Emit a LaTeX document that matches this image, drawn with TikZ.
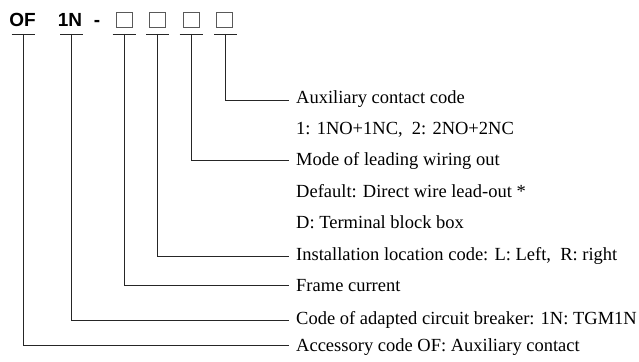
\documentclass[tikz,border=0pt]{standalone}
\usepackage{fontspec}
\setmainfont{Liberation Serif}
\newfontfamily\codefont{Liberation Sans}
\tikzset{
  code/.style={font=\codefont\bfseries\fontsize{19}{22}\selectfont, inner sep=0pt, anchor=base},
  slot/.style={draw=black!65, line width=0.8pt, minimum width=16pt, minimum height=14.5pt, inner sep=0pt},
  expl/.style={font=\fontsize{18.5}{22}\selectfont, inner sep=0pt, anchor=base west},
  lead/.style={line width=0.9pt, black!85},
}
\begin{document}
\begin{tikzpicture}[x=1pt,y=-1pt]
\useasboundingbox (0,0) rectangle (639,361);
\path (22.5,26.5) node[code](OF){OF} (70,26.5) node[code](N){1N} (97,26.5) node[code](dash){-}
 (124,19.7) node[slot](boxA){} (157.5,19.7) node[slot](boxB){} (191,19.7) node[slot](boxC){} (224.5,19.7) node[slot](boxD){};

\path (23,34) coordinate(barOF) (71.5,34) coordinate(barN) (124,34) coordinate(barA) (157.5,34) coordinate(barB) (191,34) coordinate(barC) (225.5,34) coordinate(barD);

\path (296,103) node[expl](aux){Auxiliary contact code} (296,134.5) node[expl](auxnum){1: 1NO+1NC,\ \ 2: 2NO+2NC}
 (296,165) node[expl](mode){Mode of leading wiring out} (296,197.5) node[expl](dflt){Default: Direct wire lead-out *}
 (296,228) node[expl](term){D: Terminal block box} (296,260.5) node[expl](inst){Installation location code: L: Left,\ \ R: right}
 (296,291.5) node[expl](frame){Frame current} (296,324.5) node[expl](adapt){Code of adapted circuit breaker: 1N: TGM1N}
 (296,351.5) node[expl](acc){Accessory code OF: Auxiliary contact};

\path (289,100) coordinate(endD) (289,160.7) coordinate(endC) (289,256) coordinate(endB) (289,285.7) coordinate(endA) (289,320.7) coordinate(endN) (289,345) coordinate(endOF);

\foreach \b in {OF,N,A,B,C,D} \draw[lead] ([xshift=-11.5pt]bar\b) -- ([xshift=11.5pt]bar\b);

\draw[lead] (barD) |- (endD);
\draw[lead] (barC) |- (endC);
\draw[lead] (barB) |- (endB);
\draw[lead] (barA) |- (endA);
\draw[lead] (barN) |- (endN);
\draw[lead] (barOF) |- (endOF);
\end{tikzpicture}
\end{document}
